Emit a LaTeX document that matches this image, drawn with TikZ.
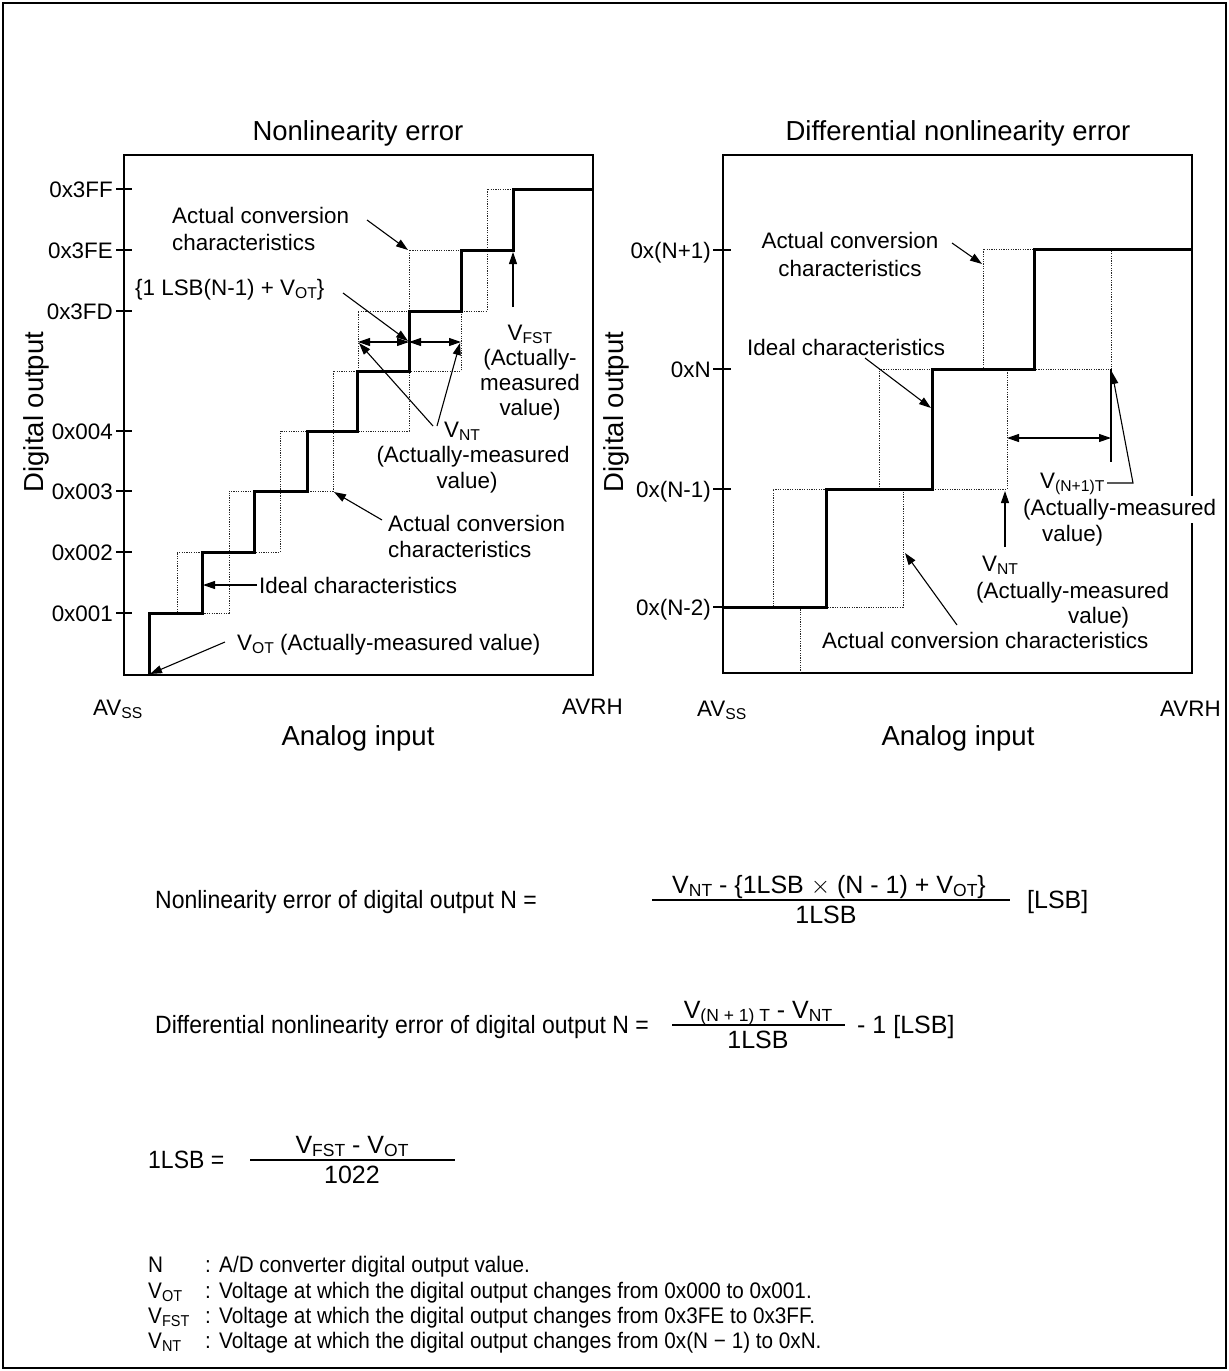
\documentclass[tikz,border=0pt]{standalone}
\usepackage{fontspec}
\setmainfont{Liberation Sans}
\newfontfamily\condfont[FakeStretch=0.92]{Liberation Sans}
\usepackage{graphicx}
\usetikzlibrary{arrows.meta}
\newcommand\lsub[1]{\raisebox{-0.3ex}{\scalebox{0.7}{#1}}}
\begin{document}
\begin{tikzpicture}[x=1pt,y=-1pt,
  lbl/.style={font=\fontsize{22.4}{27}\selectfont, inner sep=0pt},
  ttl/.style={font=\fontsize{27.5}{32}\selectfont, inner sep=0pt},
  ftxt/.style={font=\condfont\fontsize{25}{30}\selectfont, inner sep=0pt},
  fnum/.style={font=\fontsize{25}{30}\selectfont, inner sep=0pt},
  ltxt/.style={font=\condfont\fontsize{22.5}{26}\selectfont, inner sep=0pt},
  outerframe/.style={line width=2pt},
  frm/.style={line width=1.4pt},
  ideal/.style={line width=3pt},
  actual/.style={line width=1pt, dash pattern=on 1.2pt off 1.2pt, black!85},
  thinline/.style={line width=1.1pt},
  tickline/.style={line width=1.1pt},
  arr/.style={thinline, -{Triangle[length=12pt,width=8pt]}},
  darr/.style={thinline, {Triangle[length=12pt,width=8pt]}-{Triangle[length=12pt,width=8pt]}}
]
\useasboundingbox (0,0) rectangle (1229,1371);
\draw[outerframe] (3,3) rectangle (1226,1368);

% ================= LEFT CHART =================
\draw[frm] (124,155) rectangle (593,675);
\foreach \yy/\tx [count=\i] in {189/0x3FF,250/0x3FE,311/0x3FD,431/0x004,491/0x003,552/0x002,613/0x001}{
  \draw[tickline] (116,\yy) -- (132,\yy);
  \node[lbl,anchor=base east] (lt\i) at (113,\yy+8) {\tx};
}
% actual conversion characteristics (dotted)
\draw[actual] (149,613) -- (177,613) -- (177,552) -- (229,552) -- (229,491) -- (280,491) -- (280,431) -- (333,431) -- (333,371) -- (358,371) -- (358,311) -- (409,311) -- (409,250) -- (487,250) -- (487,189) -- (593,189);
\draw[actual] (202,613) -- (229,613) -- (229,552) -- (280,552) -- (280,491) -- (333,491) -- (333,431) -- (409,431) -- (409,371) -- (461,371) -- (461,311) -- (487,311) -- (487,250) -- (513,250) -- (513,189);
% ideal characteristics
\draw[ideal] (149,675) -- (149,613) -- (202,613) -- (202,552) -- (254,552) -- (254,491) -- (307,491) -- (307,431) -- (357,431) -- (357,371) -- (409,371) -- (409,311) -- (461,311) -- (461,250) -- (513,250) -- (513,189) -- (593,189);

% labels
\node[lbl,anchor=base west] (lA1) at (172,223) {Actual conversion};
\node[lbl,anchor=base west] (lA2) at (172,250) {characteristics};
\node[lbl,anchor=base west] (lLSB) at (135,295) {\{1 LSB(N-1) + V\lsub{OT}\}};
\node[lbl,anchor=base] (lF1) at (530,340) {V\lsub{FST}};
\node[lbl,anchor=base] (lF2) at (530,365) {(Actually-};
\node[lbl,anchor=base] (lF3) at (530,390) {measured};
\node[lbl,anchor=base] (lF4) at (530,415) {value)};
\node[lbl,anchor=base] (lN1) at (462,437) {V\lsub{NT}};
\node[lbl,anchor=base] (lN2) at (473,462) {(Actually-measured};
\node[lbl,anchor=base] (lN3) at (467,488) {value)};
\node[lbl,anchor=base west] (lB1) at (388,531) {Actual conversion};
\node[lbl,anchor=base west] (lB2) at (388,557) {characteristics};
\node[lbl,anchor=base west] (lI) at (259,593) {Ideal characteristics};
\node[lbl,anchor=base west] (lO) at (237,650) {V\lsub{OT} (Actually-measured value)};

% arrow end points
\coordinate (la1s) at (367,220);  \coordinate (la1e) at (408,250);
\coordinate (la2s) at (343,293);  \coordinate (la2e) at (408,341);
\coordinate (ld1) at (358,342);   \coordinate (ld2) at (409,342);  \coordinate (ld3) at (461,342);
\coordinate (lv1s) at (433,426);  \coordinate (lv1e) at (359,343);
\coordinate (lv2s) at (437,426);  \coordinate (lv2e) at (460,343);
\coordinate (lfs) at (513,307);   \coordinate (lfe) at (513,252);
\coordinate (lbs) at (382,520);   \coordinate (lbe) at (334,492);
\coordinate (lis) at (257,585);   \coordinate (lie) at (203,585);
\coordinate (los) at (225,642);   \coordinate (loe) at (150,674);
\draw[arr] (la1s) -- (la1e);
\draw[arr] (la2s) -- (la2e);
\draw[darr] (ld1) -- (ld2);
\draw[darr] (ld2) -- (ld3);
\draw[arr] (lv1s) -- (lv1e);
\draw[arr] (lv2s) -- (lv2e);
\draw[arr] (lfs) -- (lfe);
\draw[arr] (lbs) -- (lbe);
\draw[arr] (lis) -- (lie);
\draw[arr] (los) -- (loe);

% axes texts
\node[ttl,anchor=base] (lTitle) at (358,140) {Nonlinearity error};
\node[ttl,anchor=base] (lAn) at (358,745) {Analog input};
\node[ttl,rotate=90] (lDig) at (36,412) {Digital output};
\node[lbl,anchor=base west] (lAVSS) at (93,715) {AV\lsub{SS}};
\node[lbl,anchor=base west] (lAVRH) at (562,714) {AVRH};

% ================= RIGHT CHART =================
\draw[frm] (723,155) rectangle (1192,673);
\foreach \yy/\tx [count=\i] in {250/0x(N+1),369/0xN,489/0x(N-1),607/0x(N-2)}{
  \draw[tickline] (713,\yy) -- (731,\yy);
  \node[lbl,anchor=base east] (rt\i) at (711,\yy+8) {\tx};
}
\draw[actual] (723,607) -- (773,607) -- (773,489) -- (879,489) -- (879,369) -- (983,369) -- (983,249) -- (1034,249);
\draw[actual] (800,673) -- (800,607) -- (903,607) -- (903,489) -- (1007,489) -- (1007,369) -- (1111,369) -- (1111,249) -- (1192,249);
\draw[ideal] (723,607) -- (826,607) -- (826,489) -- (932,489) -- (932,369) -- (1034,369) -- (1034,249) -- (1192,249);

\node[lbl,anchor=base] (rA1) at (850,248) {Actual conversion};
\node[lbl,anchor=base] (rA2) at (850,276) {characteristics};
\node[lbl,anchor=base west] (rI) at (747,355) {Ideal characteristics};
\node[lbl,anchor=base west] (rP1) at (1040,488) {V\lsub{(N+1)T}};
\node[lbl,anchor=base west,fill=white,inner xsep=1pt,inner ysep=3pt] (rP2) at (1022,515) {(Actually-measured};
\node[lbl,anchor=base west] (rP3) at (1042,541) {value)};
\node[lbl,anchor=base west] (rN1) at (982,571) {V\lsub{NT}};
\node[lbl,anchor=base west] (rN2) at (976,598) {(Actually-measured};
\node[lbl,anchor=base west] (rN3) at (1068,623) {value)};
\node[lbl,anchor=base west] (rB) at (822,648) {Actual conversion characteristics};

\coordinate (ra1s) at (952,243);  \coordinate (ra1e) at (982,264);
\coordinate (ris) at (865,358);   \coordinate (rie) at (931,408);
\coordinate (rd1) at (1007,438);  \coordinate (rd2) at (1111,438);
\coordinate (rx1) at (1111,369);  \coordinate (rx2) at (1111,462);
\coordinate (rp0) at (1107,483);  \coordinate (rp1) at (1133,483); \coordinate (rpe) at (1112,372);
\coordinate (rns) at (1005,547);  \coordinate (rne) at (1005,491);
\coordinate (rbs) at (957,625);   \coordinate (rbe) at (905,553);
\draw[arr] (ra1s) -- (ra1e);
\draw[arr] (ris) -- (rie);
\draw[thinline] (rx1) -- (rx2);
\draw[darr] (rd1) -- (rd2);
\draw[arr] (rp0) -- (rp1) -- (rpe);
\draw[arr] (rns) -- (rne);
\draw[arr] (rbs) -- (rbe);

\node[ttl,anchor=base] (rTitle) at (958,140) {Differential nonlinearity error};
\node[ttl,anchor=base] (rAn) at (958,745) {Analog input};
\node[ttl,rotate=90] (rDig) at (616,412) {Digital output};
\node[lbl,anchor=base west] (rAVSS) at (697,716) {AV\lsub{SS}};
\node[lbl,anchor=base west] (rAVRH) at (1160,716) {AVRH};

% ================= FORMULAS =================
\node[ftxt,anchor=base west] (f1l) at (155,908) {Nonlinearity error of digital output N =};
\node[fnum,anchor=base] (f1n) at (829,893) {V\lsub{NT} - \{1LSB $\times$ (N - 1) + V\lsub{OT}\}};
\node[fnum,anchor=base] (f1d) at (826,923) {1LSB};
\draw[thinline] (652,900) -- (1010,900);
\node[fnum,anchor=base west] (f1u) at (1027,908) {[LSB]};

\node[ftxt,anchor=base west] (f2l) at (155,1033) {Differential nonlinearity error of digital output N =};
\node[fnum,anchor=base] (f2n) at (758,1018) {V\lsub{(N + 1) T} - V\lsub{NT}};
\node[fnum,anchor=base] (f2d) at (758,1048) {1LSB};
\draw[thinline] (672,1025) -- (845,1025);
\node[fnum,anchor=base west] (f2u) at (857,1033) {- 1 [LSB]};

\node[ftxt,anchor=base west] (f3l) at (148,1168) {1LSB =};
\node[fnum,anchor=base] (f3n) at (352,1153) {V\lsub{FST} - V\lsub{OT}};
\node[fnum,anchor=base] (f3d) at (352,1183) {1022};
\draw[thinline] (250,1160) -- (455,1160);

% ================= LEGEND =================
\node[ltxt,anchor=base west] (g1a) at (148,1272) {N};
\node[ltxt,anchor=base west] (g1b) at (205,1272) {:};
\node[ltxt,anchor=base west] (g1c) at (219,1272) {A/D converter digital output value.};
\node[ltxt,anchor=base west] (g2a) at (148,1298) {V\lsub{OT}};
\node[ltxt,anchor=base west] (g2b) at (205,1298) {:};
\node[ltxt,anchor=base west] (g2c) at (219,1298) {Voltage at which the digital output changes from 0x000 to 0x001.};
\node[ltxt,anchor=base west] (g3a) at (148,1323) {V\lsub{FST}};
\node[ltxt,anchor=base west] (g3b) at (205,1323) {:};
\node[ltxt,anchor=base west] (g3c) at (219,1323) {Voltage at which the digital output changes from 0x3FE to 0x3FF.};
\node[ltxt,anchor=base west] (g4a) at (148,1348) {V\lsub{NT}};
\node[ltxt,anchor=base west] (g4b) at (205,1348) {:};
\node[ltxt,anchor=base west] (g4c) at (219,1348) {Voltage at which the digital output changes from 0x(N − 1) to 0xN.};
\end{tikzpicture}
\end{document}
